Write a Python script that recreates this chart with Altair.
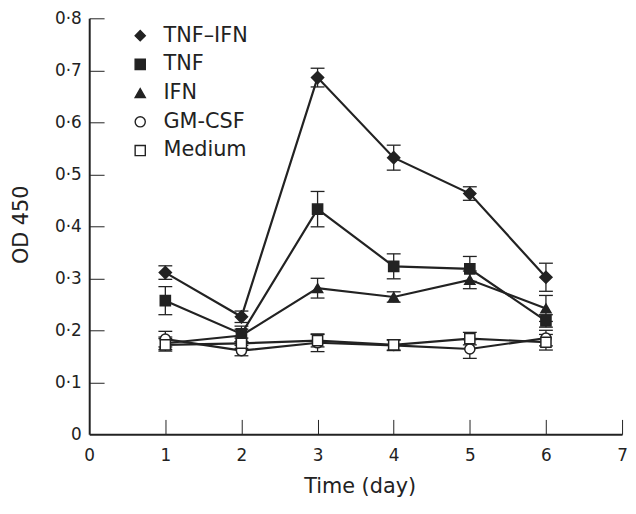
import altair as alt
import pandas as pd

# ---- data ----
series = ["TNF–IFN", "TNF", "IFN", "GM-CSF", "Medium"]
days = [1, 2, 3, 4, 5, 6]

tnf_ifn = [0.311, 0.226, 0.686, 0.532, 0.463, 0.302]
tnf_ifn_err = [0.013, 0.011, 0.018, 0.024, 0.013, 0.027]
tnf = [0.257, 0.193, 0.433, 0.323, 0.318, 0.218]
tnf_err = [0.027, 0.015, 0.034, 0.024, 0.024, 0.012]
ifn = [0.175, 0.190, 0.281, 0.264, 0.297, 0.242]
ifn_err = [0.012, 0.012, 0.019, 0.010, 0.017, 0.025]
gm_csf = [0.183, 0.161, 0.176, 0.171, 0.164, 0.185]
gm_csf_err = [0.015, 0.010, 0.017, 0.010, 0.018, 0.015]
medium = [0.172, 0.175, 0.180, 0.172, 0.184, 0.177]
medium_err = [0.012, 0.010, 0.012, 0.010, 0.012, 0.015]

x_tick_values = [0, 1, 2, 3, 4, 5, 6, 7]
y_tick_values = [0, 0.1, 0.2, 0.3, 0.4, 0.5, 0.6, 0.7, 0.8]

shapes = ["diamond", "square", "triangle-up", "circle", "square"]
fills = ["#222222", "#222222", "#222222", "white", "white"]
strokes = ["#222222"] * 5

rows = []
for name, vals, errs in zip(series,
                            [tnf_ifn, tnf, ifn, gm_csf, medium],
                            [tnf_ifn_err, tnf_err, ifn_err, gm_csf_err, medium_err]):
    for d, v, e in zip(days, vals, errs):
        rows.append({"series": name, "day": d, "od": v, "lo": v - e, "hi": v + e})
df = pd.DataFrame(rows)

ink = "#222222"
FONT = "DejaVu Sans"

xs = alt.Scale(domain=[0, 7], nice=False)
ys = alt.Scale(domain=[0, 0.8], nice=False)

x_main = alt.Axis(values=x_tick_values, ticks=False, domainWidth=2, domainColor=ink,
                  labelFontSize=17, labelFont=FONT, labelColor=ink, labelPadding=13,
                  labelFlush=False, labelOverlap=False, grid=False,
                  title="Time (day)", titleFont=FONT, titleFontSize=21,
                  titleFontWeight="normal", titleColor=ink,
                  titleX=273, titleY=59, titleBaseline="alphabetic", titleAlign="center")
x_ticks = alt.Axis(orient="bottom", offset=-15, values=x_tick_values[1:], tickSize=15,
                   tickWidth=1, tickColor=ink, domain=False, labels=False,
                   title=None, grid=False)
y_main = alt.Axis(values=y_tick_values, ticks=False, domainWidth=2, domainColor=ink,
                  labelFontSize=17, labelFont=FONT, labelColor=ink, labelPadding=8,
                  labelOverlap=False, grid=False,
                  labelExpr="datum.value == 0 ? '0' : replace(format(datum.value, '.1f'), '.', '·')",
                  title="OD 450", titleFont=FONT, titleFontSize=21,
                  titleFontWeight="normal", titleColor=ink,
                  titleX=-68, titleY=208, titleAngle=270, titleAlign="center",
                  titleBaseline="middle")
y_ticks = alt.Axis(orient="left", offset=-15, values=y_tick_values[1:], tickSize=15,
                   tickWidth=1, tickColor=ink, domain=False, labels=False,
                   title=None, grid=False)

legend = alt.Legend(
    title=None, orient="none", legendX=41, legendY=7,
    labelFontSize=21, labelFont=FONT, labelColor=ink,
    symbolSize=105, symbolStrokeWidth=1.4, symbolOpacity=1,
    rowPadding=7, labelOffset=13, padding=0,
)

base = alt.Chart(df)

lines = base.mark_line(color=ink, strokeWidth=2.2).encode(
    x=alt.X("day:Q", scale=xs, axis=x_main),
    y=alt.Y("od:Q", scale=ys, axis=y_main),
    detail="series:N",
)

bars = base.mark_rule(color=ink, strokeWidth=1.3).encode(
    x=alt.X("day:Q", scale=xs, axis=x_ticks),
    y=alt.Y("lo:Q", scale=ys, axis=y_ticks),
    y2="hi:Q",
)

caps_lo = base.mark_tick(color=ink, thickness=1.3, size=14, orient="horizontal", opacity=1).encode(
    x=alt.X("day:Q", scale=xs, axis=None),
    y=alt.Y("lo:Q", scale=ys, axis=None),
)
caps_hi = base.mark_tick(color=ink, thickness=1.3, size=14, orient="horizontal", opacity=1).encode(
    x=alt.X("day:Q", scale=xs, axis=None),
    y=alt.Y("hi:Q", scale=ys, axis=None),
)

points = base.mark_point(strokeWidth=1.5, opacity=1, fillOpacity=1).encode(
    x=alt.X("day:Q", scale=xs, axis=None),
    y=alt.Y("od:Q", scale=ys, axis=None),
    shape=alt.Shape("series:N", scale=alt.Scale(domain=series, range=shapes), legend=legend),
    fill=alt.Fill("series:N", scale=alt.Scale(domain=series, range=fills), legend=legend),
    stroke=alt.Stroke("series:N", scale=alt.Scale(domain=series, range=strokes), legend=legend),
    size=alt.condition(alt.datum.series == "TNF–IFN", alt.value(150), alt.value(105)),
)

chart = alt.layer(lines, bars, caps_lo, caps_hi, points).resolve_axis(
    x="independent", y="independent"
).properties(
    width=538, height=420,
    padding={"left": 82, "top": 8, "right": 6, "bottom": 70},
    autosize="none",
    background="white",
).configure_view(stroke=None)

chart.save("out.html", embed_options={"renderer": "svg", "actions": False})
